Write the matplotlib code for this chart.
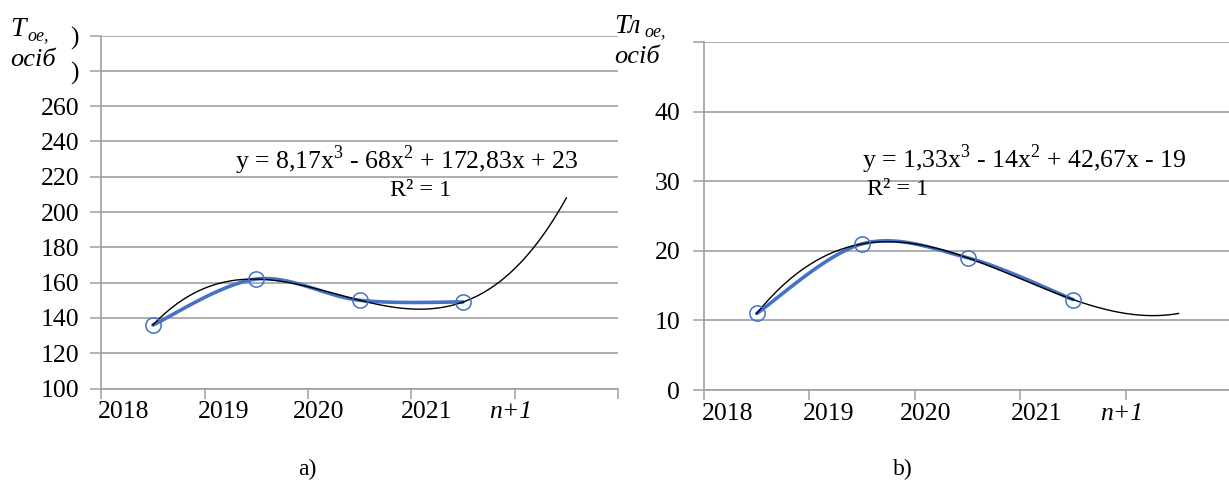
import numpy as np
import matplotlib.pyplot as plt
from matplotlib.ticker import FixedLocator

plt.rcParams['font.family'] = ['Liberation Serif', 'DejaVu Serif']
plt.rcParams['mathtext.fontset'] = 'custom'
plt.rcParams['mathtext.rm'] = 'Liberation Serif'

# data: four observed years, trend extended one period forward (n+1)
years = ['2018', '2019', '2020', '2021', 'n+1']
toe_values = [136, 162, 150, 149]     # Т_oe, persons
tloe_values = [11, 21, 19, 13]        # Тл_oe, persons
toe_eq = r'y = 8,17x$^{\rm 3}$ - 68x$^{\rm 2}$ + 172,83x + 23'
tloe_eq = r'y = 1,33x$^{\rm 3}$ - 14x$^{\rm 2}$ + 42,67x - 19'
r2_text = 'R² = 1'

BLUE = '#4472C4'
GRID = '#A0A0A0'


def smooth_line(xs, ys, n=40):
    """Excel-style smoothed line (Bezier through points, tension 1/6)."""
    px = np.r_[xs[0], xs, xs[-1]]
    py = np.r_[ys[0], ys, ys[-1]]
    t = np.linspace(0, 1, n)
    out_x, out_y = [], []
    for i in range(1, len(px) - 2):
        p0 = np.array([px[i], py[i]])
        p3 = np.array([px[i + 1], py[i + 1]])
        p1 = p0 + (p3 - np.array([px[i - 1], py[i - 1]])) / 6
        p2 = p3 - (np.array([px[i + 2], py[i + 2]]) - p0) / 6
        b = ((1 - t) ** 3)[:, None] * p0 + (3 * (1 - t) ** 2 * t)[:, None] * p1 \
            + (3 * (1 - t) * t ** 2)[:, None] * p2 + (t ** 3)[:, None] * p3
        out_x.extend(b[:, 0])
        out_y.extend(b[:, 1])
    return np.array(out_x), np.array(out_y)


def draw_panel(ax, values, ylim, ystep, tick_labels, eq, eq_xy, r2_xy, ypad):
    x = np.arange(1, len(values) + 1)
    v = np.array(values, dtype=float)

    # cubic trend through the observed points, forecast one period ahead
    coef = np.polyfit(x, v, 3)
    xt = np.linspace(1, len(years), 200)

    sx, sy = smooth_line(x, v)
    ax.plot(sx, sy, color=BLUE, lw=2.6, solid_capstyle='round', zorder=3)
    ax.plot(x, v, ls='none', marker='o', ms=11, mfc='none', mec=BLUE, mew=1.1, zorder=5)
    ax.plot(xt, np.polyval(coef, xt), color='black', lw=1.0, zorder=4)

    ax.set_xlim(0.5, len(years) + 0.5)
    ax.set_ylim(*ylim)
    yt = np.arange(ylim[0], ylim[1] + ystep / 2, ystep)
    ax.set_yticks(yt)
    ax.set_yticklabels(tick_labels)
    ax.grid(axis='y', color=GRID, lw=1.2)
    ax.set_axisbelow(True)

    # category boundaries as tick marks, labels placed separately
    ax.xaxis.set_minor_locator(FixedLocator(np.arange(0.5, len(years) + 1, 1)))
    ax.set_xticks([0.72, 1.68, 2.6, 3.65, 4.46])
    ax.set_xticklabels(years)
    ax.get_xticklabels()[-1].set_style('italic')
    ax.tick_params(axis='x', which='major', length=0, pad=9, labelsize=18.5)
    ax.tick_params(axis='x', which='minor', length=7, width=1.1, color=GRID)
    ax.tick_params(axis='y', length=8, width=1.1, color=GRID, pad=ypad, labelsize=18.5)

    for s in ('top', 'right'):
        ax.spines[s].set_visible(False)
    for s in ('left', 'bottom'):
        ax.spines[s].set_color(GRID)
        ax.spines[s].set_linewidth(1.2)

    ax.text(*eq_xy, eq, transform=ax.transAxes, fontsize=18.5, ha='left', va='baseline')
    ax.text(*r2_xy, r2_text, transform=ax.transAxes, fontsize=17.5, ha='left', va='baseline')


fig = plt.figure(figsize=(12.29, 4.86), dpi=100)
ax1 = fig.add_axes([0.0824, 0.2006, 0.4205, 0.7263])
ax2 = fig.add_axes([0.5728, 0.1975, 0.4290, 0.7160])

draw_panel(ax1, toe_values, (100, 300), 20,
           [str(v) for v in range(100, 261, 20)] + [')', ')'],
           toe_eq, (0.258, 0.623), (0.558, 0.545), 8)
draw_panel(ax2, tloe_values, (0, 50), 10,
           ['0', '10', '20', '30', '40', ''],
           tloe_eq, (0.300, 0.639), (0.309, 0.560), 9)

# axis captions
fig.text(0.008, 0.925, 'Т', fontsize=20, style='italic')
fig.text(0.0225, 0.918, 'oe,', fontsize=13, style='italic')
fig.text(0.008, 0.864, 'осіб', fontsize=19, style='italic')

fig.text(0.500, 0.932, 'Тл', fontsize=20, style='italic')
fig.text(0.5245, 0.925, 'oe,', fontsize=13, style='italic')
fig.text(0.500, 0.871, 'осіб', fontsize=19, style='italic')

fig.text(0.250, 0.022, 'а)', fontsize=17, ha='center')
fig.text(0.735, 0.022, 'b)', fontsize=17, ha='center')

fig.savefig('out.png', dpi=100)
